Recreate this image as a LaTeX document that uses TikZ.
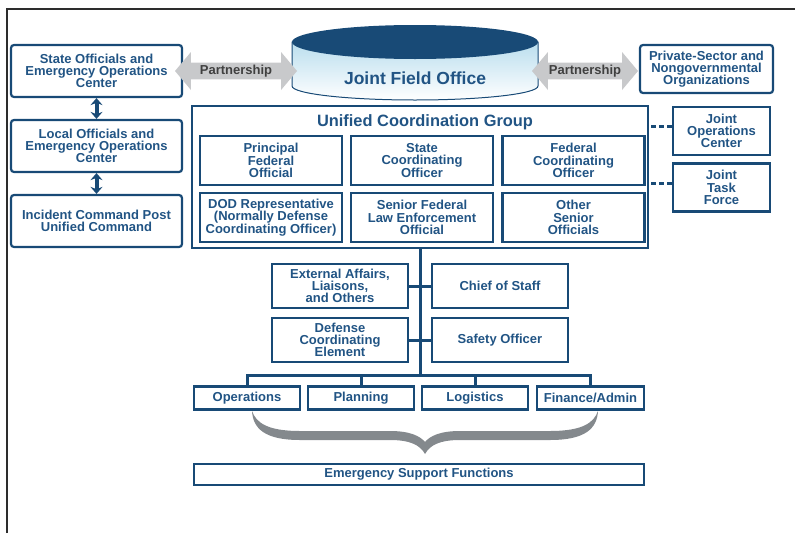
\documentclass[tikz,border=0pt]{standalone}
\usepackage{fontspec}
\setmainfont{Liberation Sans}
\usetikzlibrary{arrows.meta,shapes.arrows}
\definecolor{bleu}{RGB}{24,74,118}
\definecolor{bleutexte}{RGB}{33,84,132}
\definecolor{bleuclair}{RGB}{186,222,238}
\definecolor{gris}{RGB}{200,201,203}
\definecolor{grisfonce}{RGB}{132,137,141}
\definecolor{cadre}{RGB}{45,45,45}
\begin{document}
\begin{tikzpicture}[x=1pt,y=-1pt,
  txt/.style={font=\bfseries\fontsize{13}{12.3}\selectfont,text=bleutexte,align=center},
  boite/.style={txt,draw=bleu,line width=2.6pt,inner sep=0pt},
  coin/.style={boite,rounded corners=3pt,line width=2.2pt},
  gauche/.style={coin,minimum width=171pt,minimum height=52pt},
  membre/.style={boite,minimum width=142pt,minimum height=49pt},
  cote/.style={boite,minimum width=97pt,minimum height=48pt},
  milieu/.style={boite,minimum width=136pt,minimum height=44pt},
  section/.style={boite,minimum width=106pt,minimum height=23pt},
  partenariat/.style={double arrow,fill=gris,text=black!75,
    font=\bfseries\fontsize{13}{13}\selectfont,
    double arrow head extend=10.5pt,double arrow tip angle=100,
    minimum width=38pt,inner sep=2pt},
  lien/.style={draw=bleu,line width=3pt},
  pointille/.style={draw=bleu,line width=3pt,dash pattern=on 5pt off 3pt},
  fleche/.style={draw=bleu,line width=4pt,
    {Stealth[length=7pt,width=12pt]}-{Stealth[length=7pt,width=12pt]}}]
\useasboundingbox (0,0) rectangle (795,533);
% Cadre
\draw[cadre,line width=2.5pt] (7,533) -- (7,9) -- (795,9);
% Etat et local
\node[gauche] (etat) at (96.5,71) {State Officials and\\Emergency Operations\\Center};
\node[gauche] (local) at (96.5,146) {Local Officials and\\Emergency Operations\\Center};
\node[gauche] (pci) at (96.5,221) {Incident Command Post\\Unified Command};
\draw[fleche] (etat) -- (local);
\draw[fleche] (local) -- (pci);
% Joint Field Office
\shade[top color=bleuclair,bottom color=white,draw=bleu,line width=1pt]
  (292,42) -- (292,86) arc[start angle=180,end angle=360,x radius=123pt,y radius=14pt]
  -- (538,42) -- cycle;
\fill[bleu] (415,42) ellipse[x radius=123pt,y radius=17pt];
\node[txt,font=\bfseries\fontsize{17.5}{17.5}\selectfont] (jfo) at (415,78) {Joint Field Office};
% Partenariats
\node[partenariat,minimum height=122pt] (part1) at (236,71) {Partnership};
\node[partenariat,minimum height=106pt] (part2) at (585,71) {Partnership};
\node[coin,minimum width=133pt,minimum height=48pt] (prive) at (706.5,69) {Private-Sector and\\Nongovernmental\\Organizations};
% Unified Coordination Group
\node[boite,minimum width=456pt,minimum height=142pt] (gcu) at (420,177) {};
\node[txt,font=\bfseries\fontsize{16.4}{16.4}\selectfont] (titre) at (425,122) {Unified Coordination Group};
\node[membre] (pfo) at (271,160.5) {Principal\\Federal\\Official};
\node[membre] (sco) at (422,160.5) {State\\Coordinating\\Officer};
\node[membre] (fco) at (573.5,160.5) {Federal\\Coordinating\\Officer};
\node[membre] (dod) at (271,217.5) {DOD Representative\\(Normally Defense\\Coordinating Officer)};
\node[membre] (sfl) at (422,217.5) {Senior Federal\\Law Enforcement\\Official};
\node[membre] (autres) at (573.5,217.5) {Other\\Senior\\Officials};
% JOC et JTF
\node[cote] (coi) at (721.5,131) {Joint\\Operations\\Center};
\node[cote] (fot) at (721.5,187.5) {Joint\\Task\\Force};
\draw[pointille] (coi.175) -- (coi.175 -| gcu.east);
\draw[pointille] (fot.175) -- (fot.175 -| gcu.east);
% Etat-major
\coordinate (bus) at (420,375);
\draw[lien] (gcu.south) -- (bus);
\node[milieu] (externe) at (340,286) {External Affairs,\\Liaisons,\\and Others};
\node[milieu] (chef) at (500,286) {Chief of Staff};
\node[milieu] (defense) at (340,340) {Defense\\Coordinating\\Element};
\node[milieu] (securite) at (500,340) {Safety Officer};
\draw[lien] (externe) -- (chef);
\draw[lien] (defense) -- (securite);
% Sections
\node[section] (ops) at (247,398) {Operations};
\node[section] (plan) at (361,398) {Planning};
\node[section] (logi) at (475,398) {Logistics};
\node[section,minimum width=107pt] (fin) at (590.5,398) {Finance/Admin};
\draw[lien] (ops.north) |- (bus) -| (fin.north);
\draw[lien] (plan.north) -- (plan.north |- bus);
\draw[lien] (logi.north) -- (logi.north |- bus);
% Accolade
\fill[grisfonce] (252,411) .. controls (253,428) and (264,440) .. (300,440) -- (390,440)
  .. controls (410,440) and (420,445) .. (425,454)
  .. controls (430,445) and (440,440) .. (460,440) -- (550,440)
  .. controls (586,440) and (597,428) .. (598,411)
  .. controls (594,422) and (584,431) .. (550,431) -- (460,431)
  .. controls (440,431) and (430,436) .. (425,442)
  .. controls (420,436) and (410,431) .. (390,431) -- (300,431)
  .. controls (266,431) and (256,422) .. (252,411) -- cycle;
% Emergency Support Functions
\node[boite,minimum width=450pt,minimum height=21pt] (fsu) at (419,474.5) {Emergency Support Functions};
\end{tikzpicture}
\end{document}
